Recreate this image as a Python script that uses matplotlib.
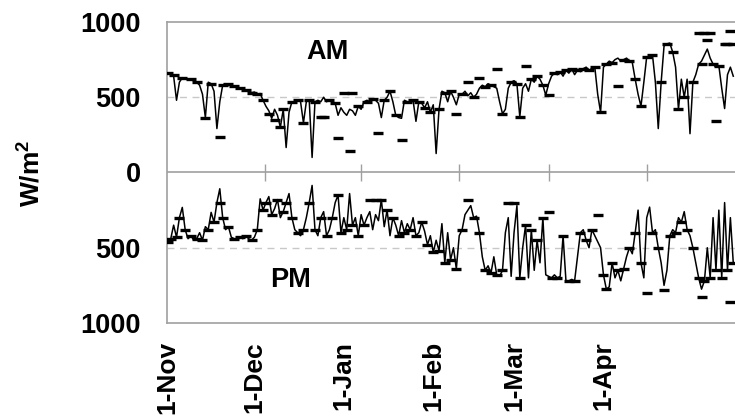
import matplotlib
matplotlib.use("Agg")
import matplotlib.pyplot as plt
import numpy as np

plt.rcParams['font.family'] = ['Liberation Sans', 'DejaVu Sans']
plt.rcParams['mathtext.fontset'] = 'custom'
plt.rcParams['mathtext.bf'] = 'Liberation Sans:bold'
plt.rcParams['mathtext.rm'] = 'Liberation Sans:bold'
plt.rcParams['mathtext.default'] = 'bf'

# ---- data (days since 1-Nov) ----
month_days = [0, 30, 61, 92, 120, 151]
month_labels = ["1-Nov", "1-Dec", "1-Jan", "1-Feb", "1-Mar", "1-Apr"]
mid_tick_days = [33.5, 67, 101, 132, 166]
y_ticks = [1000, 500, 0, -500, -1000]
y_tick_labels = ["1000", "500", "0", "500", "1000"]

am_values = [
    660, 650, 640, 480, 600, 630, 625, 620, 615, 610,
    600, 580, 520, 365, 600, 590, 540, 292, 470, 580,
    590, 585, 580, 575, 570, 560, 555, 545, 540, 530,
    535, 520, 525, 480, 440, 410, 360, 420, 380, 300,
    420, 166, 400, 470, 460, 480, 470, 330, 470, 480,
    100, 470, 480, 470, 500, 470, 480, 470, 460, 380,
    430, 400, 380, 420, 410, 380, 440, 420, 470, 480,
    470, 490, 480, 460, 365, 480, 500, 540, 470, 380,
    365, 360, 480, 470, 460, 480, 340, 470, 460, 430,
    470, 400, 450, 126, 420, 540, 530, 470, 540, 500,
    450, 520, 520, 540, 510, 530, 500, 520, 560, 580,
    570, 590, 580, 570, 560, 470, 390, 420, 560, 600,
    610, 590, 370, 560, 590, 540, 620, 600, 640, 620,
    580, 514, 590, 640, 660, 650, 670, 640, 680, 660,
    690, 650, 680, 670, 690, 700, 680, 690, 700, 520,
    400, 700, 720, 740, 730, 750, 760, 740, 750, 760,
    740, 730, 620, 520, 440, 600, 770, 760, 780, 600,
    292, 600, 840, 855, 860, 800, 700, 420, 620, 500,
    620, 258, 600, 650, 720, 740, 780, 820, 760, 720,
    700, 710, 560, 425, 650, 700, 640,
]

pm_values = [
    460, 440, 350, 430, 300, 232, 380, 440, 420, 450,
    440, 400, 450, 360, 380, 265, 330, 200, 108, 300,
    380, 360, 430, 440, 450, 430, 440, 420, 440, 450,
    430, 380, 175, 250, 200, 160, 280, 240, 180, 300,
    260, 200, 140, 300, 380, 400, 420, 380, 300, 200,
    86, 380, 420, 300, 260, 420, 380, 300, 200, 150,
    400, 300, 380, 140, 350, 300, 420, 280, 350, 300,
    260, 380, 280, 320, 180, 360, 250, 420, 300, 350,
    420, 320, 400, 340, 380, 300, 420, 400, 330, 390,
    480, 420, 530, 450, 520, 340, 600, 400, 580, 500,
    640, 420, 380, 280, 250, 220, 300, 290, 400, 560,
    650, 620, 670, 560, 680, 690, 650, 400, 300, 690,
    400, 220, 700, 500, 350, 700, 380, 650, 450, 600,
    300, 680, 690, 700, 680, 700, 690, 420, 720, 720,
    710, 720, 560, 400, 380, 450, 500, 380, 420, 460,
    500, 680, 775, 760, 600, 700, 650, 720, 640, 560,
    500, 540, 400, 250, 600, 700, 300, 230, 400, 380,
    500, 600, 750, 650, 420, 380, 400, 300, 330, 260,
    380, 420, 500, 600, 700, 775, 720, 500, 700, 300,
    650, 250, 700, 200, 650, 300, 600,
]

am_dash_days = [0, 2, 5, 8, 10, 13, 15, 18, 19, 21, 23, 25, 27, 29, 31, 33, 35, 37, 39, 40,
                 43, 45, 47, 49, 51, 53, 54, 56, 58, 59, 61, 63, 64, 66, 69, 71, 73, 75, 77, 79,
                 81, 83, 85, 87, 89, 91, 94, 96, 98, 100, 102, 104, 106, 108, 110, 112, 114, 116,
                 119, 121, 122, 124, 126, 128, 130, 132, 134, 136, 138, 140, 142, 144, 146, 148,
                 150, 152, 154, 156, 158, 160, 162, 164, 166, 168, 171, 173, 175, 177, 179, 182,
                 184, 185, 186, 187, 188, 189, 190, 191, 193, 194, 195, 196]
am_dash_vals = [660, 650, 630, 620, 600, 365, 590, 233, 580, 585, 575, 560, 545, 530, 520, 480, 392, 350, 300, 420,
                470, 480, 330, 480, 470, 372, 372, 480, 460, 226, 530, 146, 530, 440, 470, 490, 260, 480, 540, 380,
                213, 470, 480, 470, 430, 400, 420, 530, 540, 390, 520, 600, 500, 625, 570, 580, 690, 390,
                600, 590, 370, 710, 620, 640, 580, 514, 660, 670, 680, 690, 680, 690, 680, 700,
                400, 720, 730, 578, 750, 740, 620, 440, 770, 780, 600, 855, 800, 420, 500, 600,
                930, 720, 930, 880, 930, 720, 345, 710, 855, 855, 943, 855]

pm_dash_days = [0, 1, 3, 4, 6, 8, 10, 12, 14, 16, 18, 19, 21, 23, 25, 27, 29, 31, 33, 34,
                36, 38, 40, 41, 43, 45, 47, 49, 51, 53, 55, 57, 59, 60, 62, 64, 66, 68, 70, 72,
                74, 76, 78, 80, 82, 84, 86, 88, 90, 92, 94, 96, 98, 100, 102, 104, 106, 108, 110,
                112, 114, 116, 118, 120, 122, 124, 126, 128, 130, 132, 133, 135, 137, 139, 141, 143,
                145, 147, 149, 151, 152, 154, 156, 158, 160, 162, 164, 166, 168, 170, 172, 174, 176,
                178, 180, 182, 184, 185, 186, 188, 190, 192, 194, 195, 196]
pm_dash_vals = [460, 440, 430, 300, 380, 420, 440, 450, 380, 330, 200, 300, 360, 440, 430, 420, 450, 380, 250, 200,
                280, 180, 260, 200, 300, 400, 380, 200, 380, 300, 420, 300, 150, 400, 380, 350, 420, 350, 180, 180,
                180, 250, 300, 420, 400, 380, 420, 330, 480, 530, 520, 600, 580, 640, 380, 180, 300, 400, 650,
                670, 680, 650, 200, 200, 700, 350, 380, 450, 300, 265, 700, 700, 420, 720, 720, 400,
                450, 380, 280, 680, 775, 600, 650, 640, 500, 400, 600, 800, 400, 500, 780, 420, 400,
                330, 380, 500, 700, 830, 720, 700, 650, 700, 650, 860, 600]

# ---- figure ----
W, H = 735, 419
fig = plt.figure(figsize=(W / 100, H / 100), dpi=100)
ax = fig.add_axes([167 / W, (H - 323) / H, (W - 167) / W, (323 - 22) / H])

am_x = np.arange(len(am_values))
pm_x = np.arange(len(pm_values))
am = np.array(am_values, float)
pm = np.array(pm_values, float)

ax.axhline(500, color='#c8c8c8', lw=1.0, ls=(0, (5, 4)), zorder=1)
ax.axhline(-500, color='#c8c8c8', lw=1.0, ls=(0, (5, 4)), zorder=1)
ax.axhline(0, color='#a0a0a0', lw=1.2, zorder=2)
ax.vlines(mid_tick_days, -55, 55, color='#a0a0a0', lw=1.0, zorder=2)

ax.plot(am_x, am, color='black', lw=1.1, zorder=3)
ax.plot(pm_x, -pm, color='black', lw=1.1, zorder=3)
ax.plot(am_dash_days, am_dash_vals, ls='none', marker='_', ms=6.5, mew=2.4,
        color='black', zorder=4)
ax.plot(pm_dash_days, -np.array(pm_dash_vals, float), ls='none', marker='_', ms=6.5,
        mew=2.4, color='black', zorder=4)

ax.set_xlim(-0.3, 196.6)
ax.set_ylim(-1000, 1000)
ax.set_yticks(y_ticks)
ax.set_yticklabels(y_tick_labels, fontsize=19.5, fontweight='bold')
ax.set_xticks(month_days)
ax.set_xticklabels(month_labels, rotation=90, fontsize=19, fontweight='bold',
                   va='top', ha='center')
ax.tick_params(axis='y', length=0, pad=19)
ax.tick_params(axis='x', length=0, pad=13)

for side in ['left', 'top', 'bottom']:
    ax.spines[side].set_color('#a0a0a0')
    ax.spines[side].set_linewidth(1.2)
ax.spines['right'].set_visible(False)

fig.text(328 / W, (H - 52) / H, 'AM', fontsize=19.5, fontweight='bold',
         ha='center', va='center')
fig.text(291 / W, (H - 280) / H, 'PM', fontsize=19.5, fontweight='bold',
         ha='center', va='center')
fig.text(32 / W, (H - 173) / H, r'W/m$^2$', fontsize=19, fontweight='bold',
         rotation=90, ha='center', va='center')

fig.savefig('out.png', dpi=100)
